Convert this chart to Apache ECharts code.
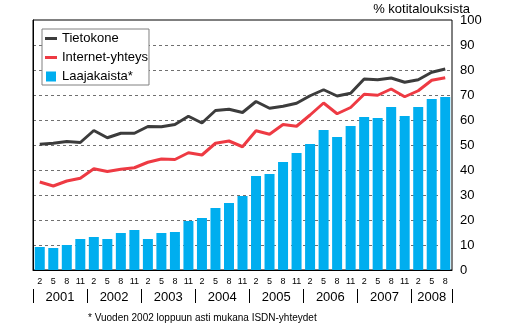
<!DOCTYPE html>
<html>
<head>
<meta charset="utf-8">
<script src="https://cdn.jsdelivr.net/npm/echarts@6/dist/echarts.min.js"></script>
<style>html,body{margin:0;padding:0;background:#fff}#c{width:525px;height:324px}</style>
</head>
<body>
<div id="c"></div>
<script>
const years = ['2001','2002','2003','2004','2005','2006','2007','2008'];
const months = ['2','5','8','11'];
const categories = [];
years.forEach(y => months.forEach(m => { if (!(y === '2008' && m === '11')) categories.push(y + '-' + m); }));

const tietokone = [50.3, 50.7, 51.4, 51.0, 55.8, 52.9, 54.7, 54.7, 57.4, 57.3, 58.2, 61.5, 58.8, 63.8, 64.3, 63.0,
  67.4, 64.7, 65.5, 66.7, 69.7, 72.1, 69.6, 70.7, 76.4, 76.1, 76.8, 75.1, 76.1, 79.1, 80.4];
const internet = [35.2, 33.6, 35.6, 36.7, 40.5, 39.4, 40.3, 40.9, 43.1, 44.4, 44.2, 46.9, 46.0, 50.7, 51.6, 49.3,
  55.7, 54.3, 58.2, 57.5, 62.0, 66.8, 62.5, 65.0, 70.3, 69.9, 72.4, 69.3, 71.7, 75.9, 76.9];
const laajakaista = [9.2, 8.8, 10.0, 12.4, 13.2, 12.4, 14.8, 16.0, 12.4, 14.8, 15.2, 19.6, 20.8, 24.8, 26.8, 29.6,
  37.6, 38.4, 43.2, 46.8, 50.4, 56.0, 53.2, 57.6, 61.2, 60.8, 65.2, 61.6, 65.2, 68.4, 69.2];
const yTicks = [0, 10, 20, 30, 40, 50, 60, 70, 80, 90, 100];
const gridTicks = [10, 20, 30, 40, 50, 60, 70, 80, 90];
const yearBounds = [0, 4, 8, 12, 16, 20, 24, 28, 31];
const yearCenters = [2, 6, 10, 14, 18, 22, 26, 29.5];
const seriesNames = ['Tietokone', 'Internet-yhteys', 'Laajakaista*'];
const footnote = '* Vuoden 2002 loppuun asti mukana ISDN-yhteydet';
const unitTitle = '% kotitalouksista';

const FONT = '"Liberation Sans", Arial, sans-serif';
const chart = echarts.init(document.getElementById('c'), null, {renderer: 'canvas'});
chart.setOption({
  animation: false,
  backgroundColor: '#fff',
  title: {
    text: unitTitle, right: 55, top: 3, padding: 0,
    textStyle: {fontSize: 13, fontWeight: 'normal', color: '#000', fontFamily: FONT}
  },
  legend: {
    orient: 'vertical', left: 42, top: 29,
    itemWidth: 12, itemHeight: 10, itemGap: 4,
    padding: [2, 1, 1, 3],
    borderColor: '#808080', borderWidth: 1, borderRadius: 0,
    backgroundColor: '#fff',
    textStyle: {fontSize: 13, lineHeight: 15, color: '#000', fontFamily: FONT},
    data: [
      {name: seriesNames[0], icon: 'path://M0,0h12v3h-12z'},
      {name: seriesNames[1], icon: 'path://M0,0h12v3h-12z'},
      {name: seriesNames[2], icon: 'path://M0,0h10v10h-10z'}
    ]
  },
  grid: {
    left: 33, right: 73, top: 20, bottom: 54,
    show: true, borderColor: '#000', borderWidth: 1
  },
  xAxis: [
    {
      type: 'category', data: categories, boundaryGap: true,
      axisLine: {show: true, lineStyle: {color: '#000', width: 1}},
      axisTick: {show: false},
      axisLabel: {
        interval: 0, fontSize: 9, color: '#000', margin: 7, fontFamily: FONT,
        formatter: v => v.split('-')[1]
      },
      splitLine: {show: false}
    },
    {
      type: 'value', min: 0, max: 31, position: 'bottom', offset: 19,
      axisLine: {show: false},
      axisTick: {show: true, customValues: yearBounds, length: 14, lineStyle: {color: '#000', width: 1}},
      axisLabel: {
        customValues: yearCenters, fontSize: 13, color: '#000', margin: 2, fontFamily: FONT,
        formatter: v => years[yearCenters.indexOf(v)] || ''
      },
      splitLine: {show: false}
    }
  ],
  yAxis: {
    type: 'value', position: 'right', min: 0, max: 100, interval: 10,
    axisLine: {show: true, lineStyle: {color: '#000', width: 1}},
    axisTick: {show: false, customValues: gridTicks},
    axisLabel: {customValues: yTicks, fontSize: 13, color: '#000', margin: 8, fontFamily: FONT},
    splitLine: {show: true, lineStyle: {color: '#707070', type: [3, 3], width: 1}}
  },
  series: [
    {
      name: seriesNames[2], type: 'bar', data: laajakaista, barWidth: 10,
      itemStyle: {color: '#00aeef'}, z: 2
    },
    {
      name: seriesNames[0], type: 'line', data: tietokone, symbol: 'none',
      lineStyle: {color: '#3c3c3c', width: 3}, itemStyle: {color: '#3c3c3c'}, z: 4
    },
    {
      name: seriesNames[1], type: 'line', data: internet, symbol: 'none',
      lineStyle: {color: '#ee3a43', width: 3}, itemStyle: {color: '#ee3a43'}, z: 3
    }
  ],
  graphic: [{
    type: 'text', left: 88, top: 313,
    style: {text: footnote, fontSize: 10, fill: '#000', font: '10px ' + FONT}
  }]
});
</script>
</body>
</html>
